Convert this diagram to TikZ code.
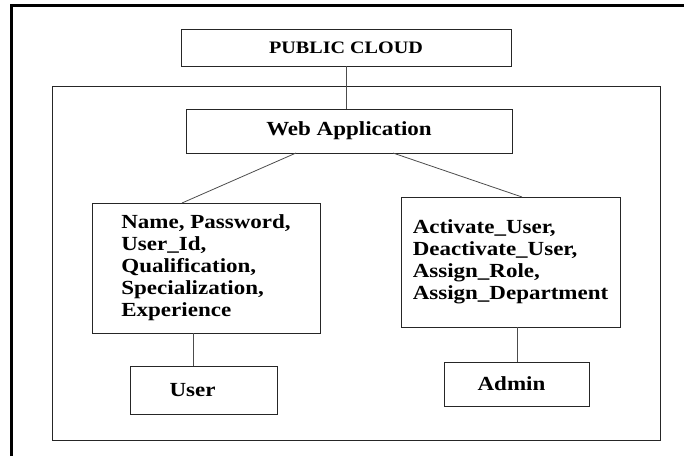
\documentclass[tikz,border=0pt]{standalone}
\usepackage{fontspec}
\setmainfont[FakeStretch=1.15]{Liberation Serif}

\begin{document}
\begin{tikzpicture}[x=1pt,y=-1pt]
\useasboundingbox (0,0) rectangle (684,456);
\draw[line width=3pt] (11,456) -- (11,5) -- (684,5);
\draw[line width=1pt,black!85] (52,86) rectangle (660,440);
\begin{scope}[every node/.style={draw=black!85,line width=1pt,inner sep=0pt,outer sep=0pt,
              align=left,font=\bfseries\fontsize{20}{22}\selectfont}]
	\node[minimum width=330pt,minimum height=37pt,
	      font=\bfseries\fontsize{17.5}{20}\selectfont] (cloud) at (346,47.5) {PUBLIC CLOUD};
	\node[minimum width=326pt,minimum height=44pt] (webapp) at (349,131) {Web Application};
	\node[minimum width=228pt,minimum height=130pt] (userinfo) at (206,268)
	     {Name, Password,\\User\_Id,\\Qualification,\\Specialization,\\Experience};
	\node[minimum width=219pt,minimum height=130pt] (admininfo) at (510.5,262)
	     {Activate\_User,\\Deactivate\_User,\\Assign\_Role,\\Assign\_Department};
	\node[minimum width=147pt,minimum height=48pt] (user) at (203.5,390) {User\hspace*{22pt}};
	\node[minimum width=145pt,minimum height=44pt] (admin) at (516.5,384) {Admin\hspace*{10pt}};
\end{scope}

\begin{scope}[every edge/.style={draw=black!70,line width=0.8pt}]
	\path (cloud.south) edge (cloud.south |- webapp.north);
	\path ([xshift=-53pt]webapp.south) edge ([xshift=-24pt]userinfo.north);
	\path ([xshift=44pt]webapp.south) edge ([xshift=11.5pt]admininfo.north);
	\path ([xshift=-13pt]userinfo.south) edge ([xshift=-13pt]userinfo.south |- user.north);
	\path ([xshift=6.5pt]admininfo.south) edge ([xshift=6.5pt]admininfo.south |- admin.north);
\end{scope}
\end{tikzpicture}
\end{document}
